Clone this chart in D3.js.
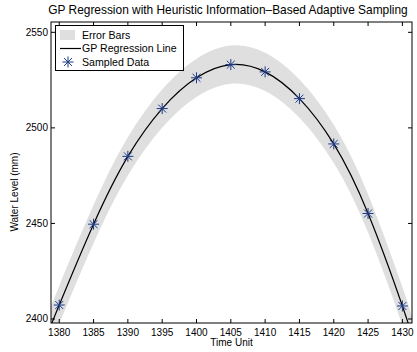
<!DOCTYPE html>
<html><head><meta charset="utf-8">
<script src="https://cdn.jsdelivr.net/npm/d3@7"></script>
<style>body{margin:0;background:#fff}svg{display:block}text{font-family:"Liberation Sans",Arial,sans-serif;fill:#000}</style>
</head><body>
<script>
// ---- data ----
const sampleX = [1380,1385,1390,1395,1400,1405,1410,1415,1420,1425,1430];
const sampleY = [2407.3,2449.6,2485.1,2510.1,2526.2,2533.1,2529.3,2515.3,2491.6,2455.2,2406.8];
const lineX = [1378.5,1380,1385,1390,1395,1400,1405,1410,1415,1420,1425,1430,1431.5];
const lineY = [2394,2407.3,2449.6,2485.1,2510.1,2526.2,2533.1,2529.3,2515.3,2491.6,2455.2,2406.8,2390];
const bandUpper = [2404,2417.3,2459.6,2495.1,2520.1,2536.2,2543.1,2539.3,2525.3,2501.6,2465.2,2416.8,2400];
const bandLower = [2384,2397.3,2439.6,2475.1,2500.1,2516.2,2523.1,2519.3,2505.3,2481.6,2445.2,2396.8,2380];
const xTicks = [1380,1385,1390,1395,1400,1405,1410,1415,1420,1425,1430];
const yTicks = [2400,2450,2500,2550];
const legendLabels = ["Error Bars","GP Regression Line","Sampled Data"];

const W=417,H=352;
const L=51,R=412,T=22,B=323;
const svg=d3.select("body").append("svg").attr("width",W).attr("height",H);
const x=d3.scaleLinear().domain([1378.8,1431.4]).range([L,R]);
const y=d3.scaleLinear().domain([2397.9,2555.4]).range([B,T]);

svg.append("defs").append("clipPath").attr("id","clip").append("rect")
  .attr("x",L).attr("y",T).attr("width",R-L).attr("height",B-T);
const g=svg.append("g").attr("clip-path","url(#clip)");

const bandData=lineX.map((d,i)=>({x:d,u:bandUpper[i],l:bandLower[i]}));
g.append("path").datum(bandData)
  .attr("d",d3.area().x(d=>x(d.x)).y0(d=>y(d.l)).y1(d=>y(d.u)).curve(d3.curveNatural))
  .attr("fill","#dfdfdf");
g.append("path").datum(lineX.map((d,i)=>[d,lineY[i]]))
  .attr("d",d3.line().x(d=>x(d[0])).y(d=>y(d[1])).curve(d3.curveNatural))
  .attr("fill","none").attr("stroke","#000").attr("stroke-width",1.2);

const starCol="#1c3a85";
function star(sel,cx,cy,r){
  const gg=sel.append("g").attr("transform",`translate(${cx},${cy})`)
    .attr("stroke",starCol).attr("stroke-width",1);
  gg.append("line").attr("x1",-r).attr("x2",r).attr("y1",0).attr("y2",0);
  gg.append("line").attr("x1",0).attr("x2",0).attr("y1",-r).attr("y2",r);
  const q=r*0.72;
  gg.append("line").attr("x1",-q).attr("x2",q).attr("y1",-q).attr("y2",q);
  gg.append("line").attr("x1",-q).attr("x2",q).attr("y1",q).attr("y2",-q);
}
sampleX.forEach((d,i)=>star(g,x(d),y(sampleY[i]),5.5));

// axes box
const tl=4;
const ax=svg.append("g");
ax.append("rect").attr("x",L).attr("y",T).attr("width",R-L).attr("height",B-T)
  .attr("fill","none").attr("stroke","#000").attr("stroke-width",1);
xTicks.forEach(t=>{
  const px=x(t);
  ax.append("line").attr("x1",px).attr("x2",px).attr("y1",B).attr("y2",B-tl).attr("stroke","#000");
  ax.append("line").attr("x1",px).attr("x2",px).attr("y1",T).attr("y2",T+tl).attr("stroke","#000");
  ax.append("text").attr("x",px).attr("y",B+13).attr("text-anchor","middle").attr("font-size",10).text(t);
});
yTicks.forEach(t=>{
  const py=y(t);
  ax.append("line").attr("x1",L).attr("x2",L+tl).attr("y1",py).attr("y2",py).attr("stroke","#000");
  ax.append("line").attr("x1",R).attr("x2",R-tl).attr("y1",py).attr("y2",py).attr("stroke","#000");
  ax.append("text").attr("x",L-3).attr("y",py+3.5).attr("text-anchor","end").attr("font-size",10).text(t);
});
svg.append("text").attr("x",(L+R)/2).attr("y",346).attr("text-anchor","middle").attr("font-size",10).text("Time Unit");
svg.append("text").attr("transform",`translate(18,192) rotate(-90)`).attr("text-anchor","middle").attr("font-size",10).text("Water Level (mm)");
svg.append("text").attr("x",228).attr("y",14).attr("text-anchor","middle").attr("font-size",11.9).text("GP Regression with Heuristic Information\u2013Based Adaptive Sampling");

// legend
const lg=svg.append("g");
lg.append("rect").attr("x",55.5).attr("y",25.5).attr("width",128).attr("height",45)
  .attr("fill","#fff").attr("stroke","#000").attr("stroke-width",1);
const rows=[35,48.5,62];
lg.append("rect").attr("x",60).attr("y",rows[0]-5).attr("width",15).attr("height",10).attr("fill","#dfdfdf");
lg.append("line").attr("x1",60).attr("x2",81).attr("y1",rows[1]).attr("y2",rows[1]).attr("stroke","#000").attr("stroke-width",1.2);
star(lg,68,rows[2],5.5);
legendLabels.forEach((t,i)=>lg.append("text").attr("x",82).attr("y",rows[i]+3.7).attr("font-size",10.6).text(t));
</script>
</body></html>
